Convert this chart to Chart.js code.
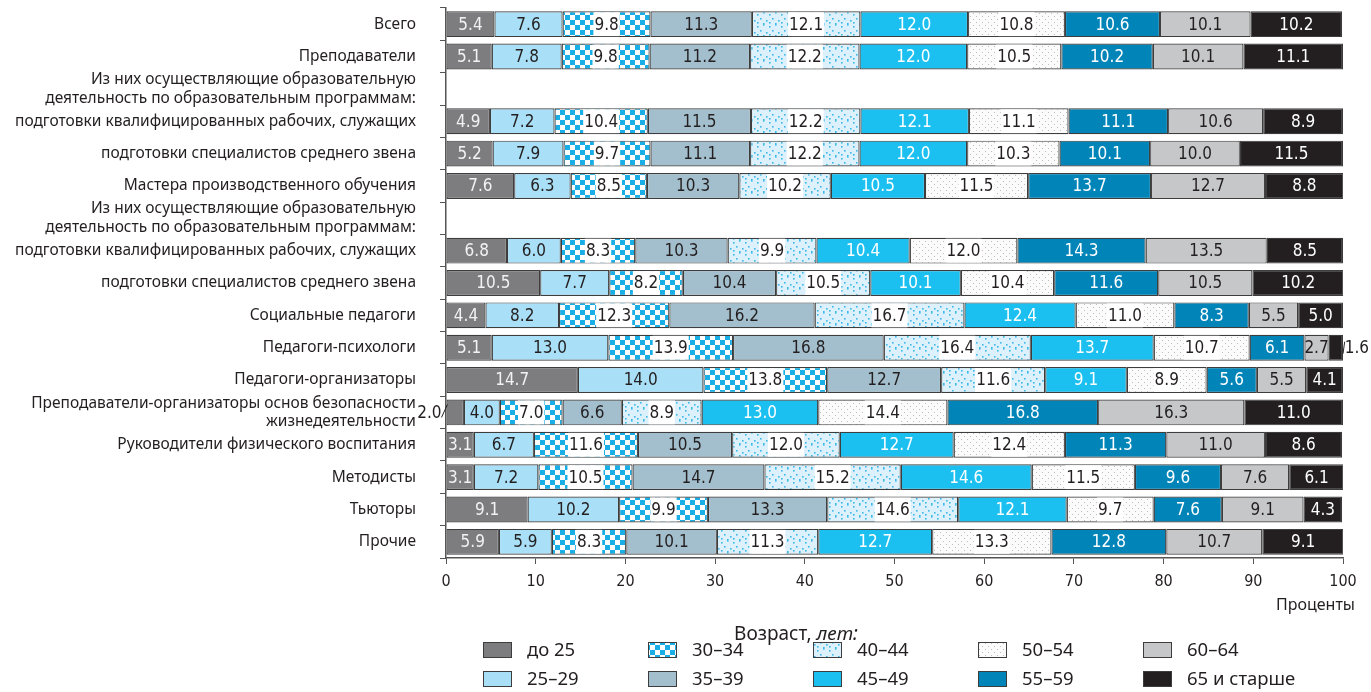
<!DOCTYPE html>
<html lang="ru">
<head>
<meta charset="utf-8">
<title>Возрастной состав педагогических работников</title>
<script src="https://cdn.jsdelivr.net/npm/chart.js@4.4.1/dist/chart.umd.min.js"></script>
<style>
  html, body { margin: 0; padding: 0; background: #fff; }
  #wrap { width: 1371px; height: 692px; }
</style>
</head>
<body>
<div id="wrap"><canvas id="ageChart" width="1371" height="692"></canvas></div>
<script>
// Категории (пустые строки несут только подпись-заголовок)
const categories = [
  'Всего',
  'Преподаватели',
  ['Из них осуществляющие образовательную', 'деятельность по образовательным программам:'],
  'подготовки квалифицированных рабочих, служащих',
  'подготовки специалистов среднего звена',
  'Мастера производственного обучения',
  ['Из них осуществляющие образовательную', 'деятельность по образовательным программам:'],
  'подготовки квалифицированных рабочих, служащих',
  'подготовки специалистов среднего звена',
  'Социальные педагоги',
  'Педагоги-психологи',
  'Педагоги-организаторы',
  ['Преподаватели-организаторы основ безопасности', 'жизнедеятельности'],
  'Руководители физического воспитания',
  'Методисты',
  'Тьюторы',
  'Прочие'
];

const ageGroups = ['до 25', '25–29', '30–34', '35–39', '40–44', '45–49', '50–54', '55–59', '60–64', '65 и старше'];

// Доли по возрастным группам, %
const under25   = [5.4, 5.1, null, 4.9, 5.2, 7.6, null, 6.8, 10.5, 4.4, 5.1, 14.7, 2.0, 3.1, 3.1, 9.1, 5.9];
const age25to29 = [7.6, 7.8, null, 7.2, 7.9, 6.3, null, 6.0, 7.7, 8.2, 13.0, 14.0, 4.0, 6.7, 7.2, 10.2, 5.9];
const age30to34 = [9.8, 9.8, null, 10.4, 9.7, 8.5, null, 8.3, 8.2, 12.3, 13.9, 13.8, 7.0, 11.6, 10.5, 9.9, 8.3];
const age35to39 = [11.3, 11.2, null, 11.5, 11.1, 10.3, null, 10.3, 10.4, 16.2, 16.8, 12.7, 6.6, 10.5, 14.7, 13.3, 10.1];
const age40to44 = [12.1, 12.2, null, 12.2, 12.2, 10.2, null, 9.9, 10.5, 16.7, 16.4, 11.6, 8.9, 12.0, 15.2, 14.6, 11.3];
const age45to49 = [12.0, 12.0, null, 12.1, 12.0, 10.5, null, 10.4, 10.1, 12.4, 13.7, 9.1, 13.0, 12.7, 14.6, 12.1, 12.7];
const age50to54 = [10.8, 10.5, null, 11.1, 10.3, 11.5, null, 12.0, 10.4, 11.0, 10.7, 8.9, 14.4, 12.4, 11.5, 9.7, 13.3];
const age55to59 = [10.6, 10.2, null, 11.1, 10.1, 13.7, null, 14.3, 11.6, 8.3, 6.1, 5.6, 16.8, 11.3, 9.6, 7.6, 12.8];
const age60to64 = [10.1, 10.1, null, 10.6, 10.0, 12.7, null, 13.5, 10.5, 5.5, 2.7, 5.5, 16.3, 11.0, 7.6, 9.1, 10.7];
const age65plus = [10.2, 11.1, null, 8.9, 11.5, 8.8, null, 8.5, 10.2, 5.0, 1.6, 4.1, 11.0, 8.6, 6.1, 4.3, 9.1];

const TEXT = '#231f20';
const LABEL_FONT = '"Noto Sans", "Open Sans", sans-serif';
const NARROW_FONT = '"Liberation Sans Narrow", "DejaVu Sans Condensed", "Liberation Sans", sans-serif';

// --- заливки-текстуры ---
function makePattern(size, draw) {
  const c = document.createElement('canvas');
  c.width = size; c.height = size;
  draw(c.getContext('2d'));
  return c.getContext('2d').createPattern(c, 'repeat');
}

const checker = makePattern(10, (g) => {
  g.fillStyle = '#ffffff'; g.fillRect(0, 0, 10, 10);
  g.fillStyle = '#1aaee6';
  g.fillRect(0, 0, 5, 5); g.fillRect(5, 5, 5, 5);
});

const blueDots = makePattern(12, (g) => {
  g.fillStyle = '#dcf1fb'; g.fillRect(0, 0, 12, 12);
  g.fillStyle = '#3cb8e8';
  [[1, 2], [7, 0], [4, 6], [10, 8], [1, 10], [7, 11]].forEach(([x, y]) => g.fillRect(x, y, 1.6, 1.6));
});

const greyDots = makePattern(6, (g) => {
  g.fillStyle = '#fbfbfb'; g.fillRect(0, 0, 6, 6);
  g.fillStyle = '#bdbdbd';
  g.fillRect(1, 1, 1, 1); g.fillRect(4, 4, 1, 1);
});

const series = [under25, age25to29, age30to34, age35to39, age40to44, age45to49, age50to54, age55to59, age60to64, age65plus];
const fills = ['#7d7d80', '#a9e0f7', checker, '#a3bfcd', blueDots, '#1cc0f0', greyDots, '#0185b9', '#c6c7c9', '#231f20'];
const valueColors = ['#f2f2f2', TEXT, TEXT, TEXT, TEXT, '#ffffff', TEXT, '#ffffff', TEXT, '#ffffff'];
const boxedLabels = [false, false, true, false, true, false, true, false, false, false];

const datasets = series.map((data, i) => ({
  label: ageGroups[i],
  data: data,
  backgroundColor: fills[i],
  borderColor: '#3d3d3d',
  borderWidth: 1.2,
  borderSkipped: false,
  barPercentage: 0.8,
  categoryPercentage: 1,
  valueColor: valueColors[i],
  boxedLabel: boxedLabels[i]
}));

// Подписи значений внутри сегментов
const segmentLabels = {
  id: 'segmentLabels',
  afterDatasetsDraw(chart) {
    const ctx = chart.ctx;
    ctx.save();
    ctx.font = '17px ' + NARROW_FONT;
    ctx.textBaseline = 'middle';
    ctx.textAlign = 'center';
    chart.data.datasets.forEach((ds, di) => {
      const meta = chart.getDatasetMeta(di);
      meta.data.forEach((bar, i) => {
        const v = ds.data[i];
        if (v == null) return;
        const p = bar.getProps(['x', 'y', 'base', 'height'], true);
        const left = Math.min(p.x, p.base), right = Math.max(p.x, p.base);
        const text = v.toFixed(1);
        const tw = ctx.measureText(text).width;
        const cy = p.y + 1;
        if (right - left < tw * 0.85) {
          // узкий сегмент: подпись снаружи с выноской
          ctx.fillStyle = TEXT;
          ctx.strokeStyle = TEXT;
          ctx.lineWidth = 1;
          ctx.beginPath();
          if (di === 0) {
            ctx.textAlign = 'right';
            ctx.fillText(text, left - 5, cy);
            ctx.moveTo(left - 5, p.y + 5);
            ctx.lineTo(left + 1, p.y - 8);
          } else {
            ctx.textAlign = 'left';
            const tx = Math.min(right + 6, chart.width - 2 - tw);
            ctx.fillText(text, tx, cy);
            ctx.moveTo(right, p.y + 6);
            ctx.lineTo(tx, p.y - 6);
          }
          ctx.stroke();
          ctx.textAlign = 'center';
          return;
        }
        const cx = (left + right) / 2;
        if (ds.boxedLabel) {
          ctx.fillStyle = '#ffffff';
          ctx.fillRect(cx - tw / 2 - 1, p.y - p.height / 2 + 1, tw + 2, p.height - 2);
        }
        ctx.fillStyle = ds.valueColor;
        ctx.fillText(text, cx, cy);
      });
    });
    ctx.restore();
  }
};

// Легенда: 5 столбцов по 2 строки, плюс подписи осей
const ageLegend = {
  id: 'ageLegend',
  afterDraw(chart) {
    const ctx = chart.ctx;
    ctx.save();
    ctx.fillStyle = TEXT;
    ctx.textBaseline = 'middle';

    ctx.font = '16px ' + LABEL_FONT;
    ctx.textAlign = 'right';
    ctx.fillText('Проценты', 1355, 605);

    ctx.textAlign = 'left';
    ctx.font = '19px ' + LABEL_FONT;
    const head = 'Возраст, ';
    const hw = ctx.measureText(head).width;
    ctx.font = 'italic 19px ' + LABEL_FONT;
    const tw = ctx.measureText('лет:').width;
    const hx = 796 - (hw + tw) / 2;
    ctx.font = '19px ' + LABEL_FONT;
    ctx.fillText(head, hx, 635);
    ctx.font = 'italic 19px ' + LABEL_FONT;
    ctx.fillText('лет:', hx + hw, 635);

    ctx.font = '18.5px ' + LABEL_FONT;
    chart.data.datasets.forEach((ds, i) => {
      const col = Math.floor(i / 2), row = i % 2;
      const bx = 483 + col * 165;
      const by = 642 + row * 29;
      ctx.fillStyle = ds.backgroundColor;
      ctx.fillRect(bx, by, 29, 16);
      ctx.strokeStyle = '#3d3d3d';
      ctx.lineWidth = 1;
      ctx.strokeRect(bx + 0.5, by + 0.5, 28, 15);
      ctx.fillStyle = TEXT;
      ctx.fillText(ds.label, bx + 44, by + 9);
    });
    ctx.restore();
  }
};

new Chart(document.getElementById('ageChart').getContext('2d'), {
  type: 'bar',
  data: { labels: categories, datasets: datasets },
  options: {
    indexAxis: 'y',
    responsive: false,
    animation: false,
    layout: { padding: { top: 8, right: 28, bottom: 94, left: 0 } },
    plugins: {
      legend: { display: false },
      tooltip: { enabled: false }
    },
    scales: {
      x: {
        stacked: true,
        min: 0,
        max: 100,
        ticks: { stepSize: 10, color: TEXT, padding: 8, font: { family: NARROW_FONT, size: 16 } },
        grid: { drawOnChartArea: false, tickLength: 6, color: '#555' },
        border: { color: '#555', width: 1.5 },
        afterFit(s) { s.height = 40; s.paddingLeft = 0; s.paddingRight = 0; }
      },
      y: {
        stacked: true,
        ticks: { autoSkip: false, color: TEXT, padding: 24, font: { family: LABEL_FONT, size: 15.5 } },
        grid: { drawOnChartArea: false, offset: true, tickLength: 6, color: '#555' },
        border: { color: '#555', width: 1.5 },
        afterFit(s) { s.width = 446; s.paddingTop = 0; s.paddingBottom = 0; }
      }
    }
  },
  plugins: [segmentLabels, ageLegend]
});
</script>
</body>
</html>
